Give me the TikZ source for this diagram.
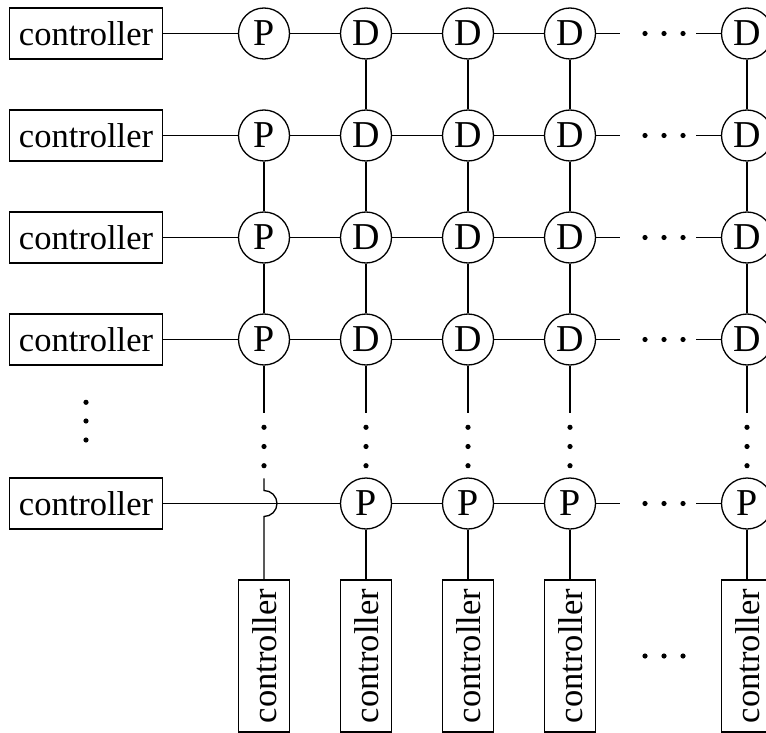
\documentclass[tikz,border=0pt]{standalone}
\usepackage{fontspec}
\setmainfont{Liberation Serif}
\begin{document}
\begin{tikzpicture}[x=1pt,y=-1pt,
  line width=1.3pt,
  ctrl/.style={draw, minimum width=153pt, minimum height=51pt, inner sep=0pt,
    text height=24pt, text depth=0pt, font=\fontsize{34.5}{36}\selectfont},
  vctrl/.style={ctrl, minimum width=152pt, rotate=90},
  proc/.style={draw, circle, minimum size=51pt, inner sep=0pt,
    font=\fontsize{38}{40}\selectfont},
  dotc/.style={fill, circle, inner sep=0pt, minimum size=5.2pt, draw=none}
]
\useasboundingbox (0,0) rectangle (766,733);

% upper rows
\foreach \r/\y in {1/33.5,2/135.5,3/237.5,4/339.5} {
  \node[ctrl] (L\r) at (86,\y) {controller};
  \node[proc] (P\r) at (264,\y) {P};
  \foreach \c/\x in {2/366,3/468,4/570,5/747}
    \node[proc] (D\r\c) at (\x,\y) {D};
  \coordinate (ha\r) at (620,\y);
  \coordinate (hb\r) at (696,\y);
  \foreach \k/\x in {1/645,2/664,3/683}
    \node[dotc] (hd\r\k) at (\x,\y) {};
  \draw (L\r) -- (P\r) -- (D\r2) -- (D\r3) -- (D\r4) -- (ha\r);
  \draw (hb\r) -- (D\r5);
}

% left vertical dots
\foreach \k/\y in {1/402.3,2/421,3/440}
  \node[dotc] (ld\k) at (86,\y) {};

% last row
\node[ctrl] (L6) at (86,503.5) {controller};
\foreach \c/\x in {2/366,3/468,4/570,5/747}
  \node[proc] (Q\c) at (\x,503.5) {P};
\coordinate (ha6) at (620,503.5);
\coordinate (hb6) at (696,503.5);
\foreach \k/\x in {1/645,2/664,3/683}
  \node[dotc] (hd6\k) at (\x,503.5) {};
\draw (L6) -- (Q2) -- (Q3) -- (Q4) -- (ha6);
\draw (hb6) -- (Q5);

% bottom controllers and column dots
\foreach \c/\x in {1/264,2/366,3/468,4/570,5/747} {
  \node[vctrl] (B\c) at (\x,656) {controller};
  \coordinate (va\c) at (\x,413.3);
  \foreach \k/\y in {1/427.3,2/446.5,3/465.7}
    \node[dotc] (vd\c\k) at (\x,\y) {};
}
\foreach \c in {2,3,4,5} {
  \draw (D1\c) -- (D2\c) -- (D3\c) -- (D4\c) -- (va\c);
  \draw (Q\c) -- (B\c);
}
% first column with jump over the last row line
\coordinate (vb1) at (264,478.3);
\coordinate (j1) at (264,490.5);
\draw (P2) -- (P3) -- (P4) -- (va1);
\draw (vb1) -- (j1) arc[start angle=-90, end angle=90, radius=13] -- (B1);

% bottom horizontal dots
\foreach \k/\x in {1/645,2/664,3/683}
  \node[dotc] (bd\k) at (\x,656) {};
\end{tikzpicture}
\end{document}
